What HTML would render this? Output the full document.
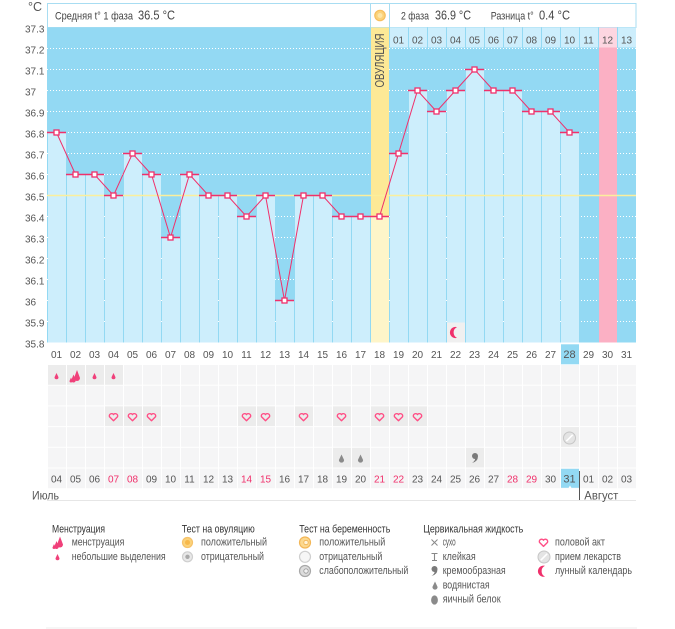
<!DOCTYPE html>
<html><head><meta charset="utf-8"><style>
html,body{margin:0;padding:0;background:#fff;}
svg{display:block;font-family:"Liberation Sans","DejaVu Sans",sans-serif;}
.ax{font-size:10px;fill:#555;}
.hd{font-size:11px;fill:#444;}
.hb{font-size:12.5px;fill:#444;}
.lt{font-size:11px;fill:#333;}
.li{font-size:11px;fill:#555;}
.rd{fill:#f0306b;}
</style></head><body>
<svg width="675" height="629" viewBox="0 0 675 629" xmlns="http://www.w3.org/2000/svg">
<defs>
<pattern id="grid" patternUnits="userSpaceOnUse" x="48" y="365" width="19" height="20.7">
<rect x="0" y="0" width="18" height="19.7" fill="#f5f5f6"/>
</pattern>
<path id="hrt" d="M0,3.6 L-4,-0.4 A2.3,2.3 0 0 1 0,-2.6 A2.3,2.3 0 0 1 4,-0.4 Z" fill="none" stroke="#ff4f86" stroke-width="1.4" stroke-linejoin="round"/>
<path id="gdrop" d="M0,-4.5 L2.6,1 A2.6,2.6 0 0 1 -2.6,1 Z" fill="#8a8a8a"/>
<path id="pdrop" d="M0,-3 L2,1.2 A2,2 0 0 1 -2,1.2 Z" fill="#f0407a"/>
<g id="pill"><circle r="6" fill="#e4e4e4" stroke="#c6c6c6" stroke-width="1"/><line x1="-3.2" y1="3.2" x2="3.2" y2="-3.2" stroke="#fff" stroke-width="1.6"/></g>
<path id="moon" d="M1.5,-5.4 A5.6,5.6 0 1 0 1.5,5.4 A6,6 0 0 1 1.5,-5.4 Z" fill="#f0306b"/>
<g id="mens"><path d="M1.5,-6 L4.5,2 A3,3 0 0 1 -1.5,2 Z" fill="#f0407a"/><path d="M-2,-1.5 L0.25,4.25 A2.25,2.25 0 0 1 -4.25,4.25 Z" fill="#f0407a"/><path d="M-4.5,1.5 L-3,5 A1.5,1.5 0 0 1 -6,5 Z" fill="#f0407a"/></g>
<g id="cream"><circle cx="0.5" cy="-2" r="3" fill="#7a7a7a"/><path d="M3.4,-1.5 Q3.5,3.5 -2.5,5 Q1,2.5 0.5,0.5 Z" fill="#7a7a7a"/></g>
</defs>

<!-- °C -->
<text x="28" y="11" style="font-size:12.5px;fill:#555">°C</text>

<!-- header box -->
<rect x="47.5" y="3.5" width="588.5" height="24" fill="#fff" stroke="#a8ddf2" stroke-width="1"/>
<line x1="370.5" y1="3.5" x2="370.5" y2="27.5" stroke="#a8ddf2"/>
<line x1="389.5" y1="3.5" x2="389.5" y2="27.5" stroke="#a8ddf2"/>
<text x="55" y="19.3" class="hd" textLength="78" lengthAdjust="spacingAndGlyphs">Средняя t° 1 фаза</text>
<text x="138" y="19.3" class="hb" textLength="37" lengthAdjust="spacingAndGlyphs">36.5 °C</text>
<circle cx="380" cy="15.5" r="5.2" fill="#fbd27a" stroke="#f6bf5e" stroke-width="1.2"/>
<circle cx="380" cy="15.5" r="2.5" fill="#fde6a6"/>
<text x="401" y="19.3" class="hd" textLength="28" lengthAdjust="spacingAndGlyphs">2 фаза</text>
<text x="435" y="19.3" class="hb" textLength="36" lengthAdjust="spacingAndGlyphs">36.9 °C</text>
<text x="490.7" y="19.3" class="hd" textLength="43" lengthAdjust="spacingAndGlyphs">Разница t°</text>
<text x="539" y="19.3" class="hb" textLength="31" lengthAdjust="spacingAndGlyphs">0.4 °C</text>

<!-- plot background -->
<rect x="47" y="27.5" width="589" height="315" fill="#93d9f3"/>
<!-- dotted grid -->
<g stroke="#ffffff" stroke-width="1" stroke-dasharray="1 2">
<line x1="47" y1="48.5" x2="636" y2="48.5"/>
<line x1="47" y1="69.5" x2="636" y2="69.5"/>
<line x1="47" y1="90.5" x2="636" y2="90.5"/>
<line x1="47" y1="111.5" x2="636" y2="111.5"/>
<line x1="47" y1="132.5" x2="636" y2="132.5"/>
<line x1="47" y1="153.5" x2="636" y2="153.5"/>
<line x1="47" y1="174.5" x2="636" y2="174.5"/>
<line x1="47" y1="216.5" x2="636" y2="216.5"/>
<line x1="47" y1="237.5" x2="636" y2="237.5"/>
<line x1="47" y1="258.5" x2="636" y2="258.5"/>
<line x1="47" y1="279.5" x2="636" y2="279.5"/>
<line x1="47" y1="300.5" x2="636" y2="300.5"/>
<line x1="47" y1="321.5" x2="636" y2="321.5"/>
</g>

<!-- bars -->
<g fill="#cdeefc">
<rect x="48" y="132.5" width="18" height="210"/>
<rect x="67" y="174.5" width="18" height="168"/>
<rect x="86" y="174.5" width="18" height="168"/>
<rect x="105" y="195.5" width="18" height="147"/>
<rect x="124" y="153.5" width="18" height="189"/>
<rect x="143" y="174.5" width="18" height="168"/>
<rect x="162" y="237.5" width="18" height="105"/>
<rect x="181" y="174.5" width="18" height="168"/>
<rect x="200" y="195.5" width="18" height="147"/>
<rect x="219" y="195.5" width="18" height="147"/>
<rect x="238" y="216.5" width="18" height="126"/>
<rect x="257" y="195.5" width="18" height="147"/>
<rect x="276" y="300.5" width="18" height="42"/>
<rect x="295" y="195.5" width="18" height="147"/>
<rect x="314" y="195.5" width="18" height="147"/>
<rect x="333" y="216.5" width="18" height="126"/>
<rect x="352" y="216.5" width="18" height="126"/>
<rect x="390" y="153.5" width="18" height="189"/>
<rect x="409" y="90.5" width="18" height="252"/>
<rect x="428" y="111.5" width="18" height="231"/>
<rect x="447" y="90.5" width="18" height="252"/>
<rect x="466" y="69.5" width="18" height="273"/>
<rect x="485" y="90.5" width="18" height="252"/>
<rect x="504" y="90.5" width="18" height="252"/>
<rect x="523" y="111.5" width="18" height="231"/>
<rect x="542" y="111.5" width="18" height="231"/>
<rect x="561" y="132.5" width="18" height="210"/>
</g>
<!-- ovulation column -->
<rect x="371" y="27.5" width="18" height="189" fill="#fde996"/>
<rect x="371" y="216.5" width="18" height="126" fill="#fef5c9"/>
<text transform="translate(384,87.5) rotate(-90)" style="font-size:12.5px;fill:#555" textLength="54" lengthAdjust="spacingAndGlyphs">ОВУЛЯЦИЯ</text>
<!-- pink column -->
<rect x="599" y="47.5" width="18" height="295" fill="#fbb0c4"/>

<!-- header cells 01..13 -->
<g fill="#cdeefc">
<rect x="390" y="27.5" width="18" height="20"/><rect x="409" y="27.5" width="18" height="20"/><rect x="428" y="27.5" width="18" height="20"/><rect x="447" y="27.5" width="18" height="20"/><rect x="466" y="27.5" width="18" height="20"/><rect x="485" y="27.5" width="18" height="20"/><rect x="504" y="27.5" width="18" height="20"/><rect x="523" y="27.5" width="18" height="20"/><rect x="542" y="27.5" width="18" height="20"/><rect x="561" y="27.5" width="18" height="20"/><rect x="580" y="27.5" width="18" height="20"/><rect x="599" y="27.5" width="18" height="20" fill="#fdd6e1"/><rect x="618" y="27.5" width="18" height="20"/>
</g>
<g class="ax" text-anchor="middle">
<text x="398.5" y="43.3">01</text><text x="417.5" y="43.3">02</text><text x="436.5" y="43.3">03</text><text x="455.5" y="43.3">04</text><text x="474.5" y="43.3">05</text><text x="493.5" y="43.3">06</text><text x="512.5" y="43.3">07</text><text x="531.5" y="43.3">08</text><text x="550.5" y="43.3">09</text><text x="569.5" y="43.3">10</text><text x="588.5" y="43.3">11</text><text x="607.5" y="43.3">12</text><text x="626.5" y="43.3">13</text>
</g>

<!-- moon in plot -->
<rect x="447" y="322.5" width="18" height="20" fill="#f0f0f0"/>
<use href="#moon" x="455.5" y="332.5"/>

<!-- coverline -->
<line x1="47" y1="195.5" x2="636" y2="195.5" stroke="#fbef9c" stroke-width="1.6"/>

<!-- temperature -->
<path d="M47,132.5h19M66,174.5h19M85,174.5h19M104,195.5h19M123,153.5h19M142,174.5h19M161,237.5h19M180,174.5h19M199,195.5h19M218,195.5h19M237,216.5h19M256,195.5h19M275,300.5h19M294,195.5h19M313,195.5h19M332,216.5h19M351,216.5h19M370,216.5h19M389,153.5h19M408,90.5h19M427,111.5h19M446,90.5h19M465,69.5h19M484,90.5h19M503,90.5h19M522,111.5h19M541,111.5h19M560,132.5h19" stroke="#f0306b" stroke-width="1.6" fill="none"/>
<polyline points="56.5,132.5 75.5,174.5 94.5,174.5 113.5,195.5 132.5,153.5 151.5,174.5 170.5,237.5 189.5,174.5 208.5,195.5 227.5,195.5 246.5,216.5 265.5,195.5 284.5,300.5 303.5,195.5 322.5,195.5 341.5,216.5 360.5,216.5 379.5,216.5 398.5,153.5 417.5,90.5 436.5,111.5 455.5,90.5 474.5,69.5 493.5,90.5 512.5,90.5 531.5,111.5 550.5,111.5 569.5,132.5" fill="none" stroke="#f0306b" stroke-width="1"/>
<g fill="#fff" stroke="#f0306b" stroke-width="1.3">
<rect x="54" y="130" width="5" height="5"/><rect x="73" y="172" width="5" height="5"/><rect x="92" y="172" width="5" height="5"/><rect x="111" y="193" width="5" height="5"/><rect x="130" y="151" width="5" height="5"/><rect x="149" y="172" width="5" height="5"/><rect x="168" y="235" width="5" height="5"/><rect x="187" y="172" width="5" height="5"/><rect x="206" y="193" width="5" height="5"/><rect x="225" y="193" width="5" height="5"/><rect x="244" y="214" width="5" height="5"/><rect x="263" y="193" width="5" height="5"/><rect x="282" y="298" width="5" height="5"/><rect x="301" y="193" width="5" height="5"/><rect x="320" y="193" width="5" height="5"/><rect x="339" y="214" width="5" height="5"/><rect x="358" y="214" width="5" height="5"/><rect x="377" y="214" width="5" height="5"/><rect x="396" y="151" width="5" height="5"/><rect x="415" y="88" width="5" height="5"/><rect x="434" y="109" width="5" height="5"/><rect x="453" y="88" width="5" height="5"/><rect x="472" y="67" width="5" height="5"/><rect x="491" y="88" width="5" height="5"/><rect x="510" y="88" width="5" height="5"/><rect x="529" y="109" width="5" height="5"/><rect x="548" y="109" width="5" height="5"/><rect x="567" y="130" width="5" height="5"/>
</g>

<!-- y axis labels -->
<g class="ax">
<text x="25" y="32.7">37.3</text><text x="25" y="53.7">37.2</text><text x="25" y="74.7">37.1</text><text x="25" y="95.7">37</text><text x="25" y="116.7">36.9</text><text x="25" y="137.7">36.8</text><text x="25" y="158.7">36.7</text><text x="25" y="179.7">36.6</text><text x="25" y="200.7">36.5</text><text x="25" y="221.7">36.4</text><text x="25" y="242.7">36.3</text><text x="25" y="263.7">36.2</text><text x="25" y="284.7">36.1</text><text x="25" y="305.7">36</text><text x="25" y="326.7">35.9</text><text x="25" y="347.7">35.8</text>
</g>

<!-- x axis labels -->
<rect x="561" y="344.3" width="18" height="20" fill="#93d9f3"/>
<g class="ax" text-anchor="middle">
<text x="56.5" y="358">01</text><text x="75.5" y="358">02</text><text x="94.5" y="358">03</text><text x="113.5" y="358">04</text><text x="132.5" y="358">05</text><text x="151.5" y="358">06</text><text x="170.5" y="358">07</text><text x="189.5" y="358">08</text><text x="208.5" y="358">09</text><text x="227.5" y="358">10</text><text x="246.5" y="358">11</text><text x="265.5" y="358">12</text><text x="284.5" y="358">13</text><text x="303.5" y="358">14</text><text x="322.5" y="358">15</text><text x="341.5" y="358">16</text><text x="360.5" y="358">17</text><text x="379.5" y="358">18</text><text x="398.5" y="358">19</text><text x="417.5" y="358">20</text><text x="436.5" y="358">21</text><text x="455.5" y="358">22</text><text x="474.5" y="358">23</text><text x="493.5" y="358">24</text><text x="512.5" y="358">25</text><text x="531.5" y="358">26</text><text x="550.5" y="358">27</text><text x="569.5" y="358" style="font-size:11px">28</text><text x="588.5" y="358">29</text><text x="607.5" y="358">30</text><text x="626.5" y="358">31</text>
</g>

<!-- icon grid -->
<rect x="48" y="365" width="588" height="123.5" fill="url(#grid)"/>
<g fill="#ececec">
<!-- row1 menstruation -->
<rect x="48" y="365" width="18" height="19.7"/><rect x="67" y="365" width="18" height="19.7"/><rect x="86" y="365" width="18" height="19.7"/><rect x="105" y="365" width="18" height="19.7"/>
<!-- row3 hearts -->
<rect x="105" y="406.4" width="18" height="19.7"/><rect x="124" y="406.4" width="18" height="19.7"/><rect x="143" y="406.4" width="18" height="19.7"/><rect x="238" y="406.4" width="18" height="19.7"/><rect x="257" y="406.4" width="18" height="19.7"/><rect x="295" y="406.4" width="18" height="19.7"/><rect x="333" y="406.4" width="18" height="19.7"/><rect x="371" y="406.4" width="18" height="19.7"/><rect x="390" y="406.4" width="18" height="19.7"/><rect x="409" y="406.4" width="18" height="19.7"/>
<!-- row4 pill -->
<rect x="561" y="427.1" width="18" height="19.7"/>
<!-- row5 -->
<rect x="333" y="447.8" width="18" height="19.7"/><rect x="352" y="447.8" width="18" height="19.7"/><rect x="466" y="447.8" width="18" height="19.7"/>
</g>
<!-- row1 icons -->
<use href="#pdrop" x="56.5" y="376"/>
<use href="#mens" x="75.5" y="376"/>
<use href="#pdrop" x="94.5" y="376"/>
<use href="#pdrop" x="113.5" y="376"/>
<!-- hearts -->
<use href="#hrt" x="113.5" y="417.2"/><use href="#hrt" x="132.5" y="417.2"/><use href="#hrt" x="151.5" y="417.2"/><use href="#hrt" x="246.5" y="417.2"/><use href="#hrt" x="265.5" y="417.2"/><use href="#hrt" x="303.5" y="417.2"/><use href="#hrt" x="341.5" y="417.2"/><use href="#hrt" x="379.5" y="417.2"/><use href="#hrt" x="398.5" y="417.2"/><use href="#hrt" x="417.5" y="417.2"/>
<!-- pill -->
<use href="#pill" x="569.5" y="438"/>
<!-- row5 icons -->
<use href="#gdrop" x="341.5" y="459"/><use href="#gdrop" x="360.5" y="459"/>
<use href="#cream" x="474.5" y="458"/>

<!-- bottom date row -->
<rect x="561" y="468.8" width="18" height="19" fill="#93d9f3"/>
<path d="M568.5,488 L570,485.5 L571.5,488 Z" fill="#fff"/>
<g class="ax" text-anchor="middle">
<text x="56.5" y="482.7">04</text><text x="75.5" y="482.7">05</text><text x="94.5" y="482.7">06</text><text x="113.5" y="482.7" class="rd">07</text><text x="132.5" y="482.7" class="rd">08</text><text x="151.5" y="482.7">09</text><text x="170.5" y="482.7">10</text><text x="189.5" y="482.7">11</text><text x="208.5" y="482.7">12</text><text x="227.5" y="482.7">13</text><text x="246.5" y="482.7" class="rd">14</text><text x="265.5" y="482.7" class="rd">15</text><text x="284.5" y="482.7">16</text><text x="303.5" y="482.7">17</text><text x="322.5" y="482.7">18</text><text x="341.5" y="482.7">19</text><text x="360.5" y="482.7">20</text><text x="379.5" y="482.7" class="rd">21</text><text x="398.5" y="482.7" class="rd">22</text><text x="417.5" y="482.7">23</text><text x="436.5" y="482.7">24</text><text x="455.5" y="482.7">25</text><text x="474.5" y="482.7">26</text><text x="493.5" y="482.7">27</text><text x="512.5" y="482.7" class="rd">28</text><text x="531.5" y="482.7" class="rd">29</text><text x="550.5" y="482.7">30</text><text x="569.5" y="482.7" style="font-size:11px">31</text><text x="588.5" y="482.7">01</text><text x="607.5" y="482.7">02</text><text x="626.5" y="482.7">03</text>
</g>
<line x1="47" y1="500.5" x2="636" y2="500.5" stroke="#e6e6e6"/>
<line x1="579.5" y1="471" x2="579.5" y2="500" stroke="#555"/>
<text x="32" y="499.5" style="font-size:11.5px;fill:#555" textLength="27" lengthAdjust="spacingAndGlyphs">Июль</text>
<text x="584.3" y="499.3" style="font-size:11.5px;fill:#555" textLength="34" lengthAdjust="spacingAndGlyphs">Август</text>

<!-- legend -->
<text x="52" y="532.7" class="lt" textLength="53" lengthAdjust="spacingAndGlyphs">Менструация</text>
<use href="#mens" x="58.5" y="542.5"/>
<text x="71.7" y="545.7" class="li" textLength="52.7" lengthAdjust="spacingAndGlyphs">менструация</text>
<use href="#pdrop" x="57.5" y="557"/>
<text x="71.7" y="560" class="li" textLength="94" lengthAdjust="spacingAndGlyphs">небольшие выделения</text>

<text x="181.7" y="532.7" class="lt" textLength="73" lengthAdjust="spacingAndGlyphs">Тест на овуляцию</text>
<circle cx="187.5" cy="542.5" r="5" fill="#fbd27a" stroke="#f6c26a" stroke-width="1.2"/><circle cx="187.5" cy="542.5" r="2.5" fill="#f7b84a"/>
<text x="201" y="545.7" class="li" textLength="66" lengthAdjust="spacingAndGlyphs">положительный</text>
<circle cx="187.5" cy="556.8" r="5" fill="#e8e8e8" stroke="#cfcfcf" stroke-width="1.2"/><circle cx="187.5" cy="556.8" r="2.2" fill="#a9a9a9"/>
<text x="201" y="560" class="li" textLength="63" lengthAdjust="spacingAndGlyphs">отрицательный</text>

<text x="299.3" y="532.7" class="lt" textLength="91" lengthAdjust="spacingAndGlyphs">Тест на беременность</text>
<circle cx="305" cy="542.5" r="5.5" fill="#fcd88e" stroke="#f3b656" stroke-width="1.2"/><circle cx="306" cy="542.5" r="2.2" fill="#fff3d6" stroke="#f0b050" stroke-width="0.8"/>
<text x="319.3" y="545.7" class="li" textLength="66" lengthAdjust="spacingAndGlyphs">положительный</text>
<circle cx="305" cy="556.8" r="5.5" fill="#f6f6f6" stroke="#cfcfcf" stroke-width="1.2"/>
<text x="319.3" y="560" class="li" textLength="63" lengthAdjust="spacingAndGlyphs">отрицательный</text>
<circle cx="305" cy="571" r="5.5" fill="#dcdcdc" stroke="#a8a8a8" stroke-width="1.2"/><circle cx="306" cy="571" r="2.2" fill="#f2f2f2" stroke="#999" stroke-width="0.8"/>
<text x="319.3" y="574.2" class="li" textLength="89" lengthAdjust="spacingAndGlyphs">слабоположительный</text>

<text x="423.3" y="532.7" class="lt" textLength="100" lengthAdjust="spacingAndGlyphs">Цервикальная жидкость</text>
<path d="M431.5,539.5 L437.5,545.5 M437.5,539.5 L431.5,545.5" stroke="#888" stroke-width="1"/>
<text x="442.7" y="545.7" class="li" textLength="13" lengthAdjust="spacingAndGlyphs">сухо</text>
<path d="M431.5,553.5 h6 M434.5,553.5 v7 M432,560.5 h5" stroke="#888" stroke-width="1.1" fill="none"/>
<text x="442.7" y="560" class="li" textLength="33" lengthAdjust="spacingAndGlyphs">клейкая</text>
<use href="#cream" x="434" y="571"/>
<text x="442.7" y="574.2" class="li" textLength="63" lengthAdjust="spacingAndGlyphs">кремообразная</text>
<use href="#gdrop" x="435" y="586"/>
<text x="442.7" y="588.4" class="li" textLength="47" lengthAdjust="spacingAndGlyphs">водянистая</text>
<ellipse cx="434.5" cy="600" rx="3.4" ry="4.6" fill="#8a8a8a"/>
<text x="442.7" y="602.6" class="li" textLength="58" lengthAdjust="spacingAndGlyphs">яичный белок</text>

<use href="#hrt" x="543.5" y="542.8"/>
<text x="555" y="545.7" class="li" textLength="50" lengthAdjust="spacingAndGlyphs">половой акт</text>
<use href="#pill" x="544" y="557"/>
<text x="555" y="560" class="li" textLength="66" lengthAdjust="spacingAndGlyphs">прием лекарств</text>
<use href="#moon" x="543.5" y="571.2"/>
<text x="555" y="574.2" class="li" textLength="77" lengthAdjust="spacingAndGlyphs">лунный календарь</text>

<line x1="46" y1="628" x2="637" y2="628" stroke="#ececec" stroke-width="1"/>
</svg>
</body></html>
